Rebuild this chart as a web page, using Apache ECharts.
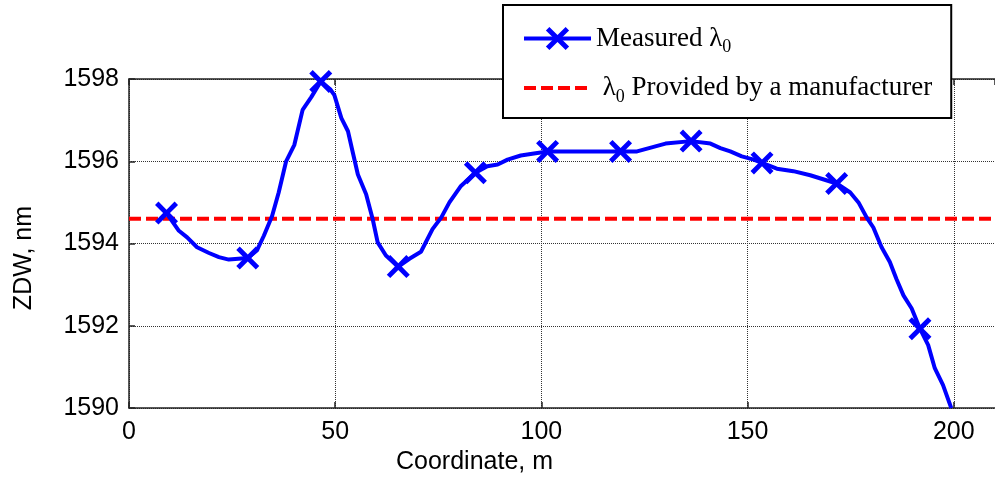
<!DOCTYPE html>
<html><head><meta charset="utf-8">
<script src="https://cdn.jsdelivr.net/npm/echarts@6/dist/echarts.min.js"></script>
<style>html,body{margin:0;padding:0;background:#fff}#c{width:995px;height:480px}</style>
</head><body><div id="c"></div>
<script>
// ---- data ----
const coordinates = [
  9.1, 12.1, 14.1, 16.5, 19.4, 21.8, 24.2, 28.8, 31.0, 32.7,
  34.7, 36.3, 38.1, 40.1, 42.1, 44.2, 46.5, 48.8, 49.8, 51.5,
  53.1, 54.3, 55.5, 57.5, 59.1, 60.3, 62.3, 65.3, 68.0, 70.8,
  73.6, 75.7, 77.7, 80.5, 84.0, 86.9, 89.4, 91.8, 95.0, 98.2,
  101.5, 110.0, 119.2, 123.2, 126.1, 130.1, 136.3, 141.0, 143.4, 145.8,
  148.6, 151.5, 153.5, 157.1, 161.1, 165.2, 171.6, 174.9, 176.9, 178.9,
  180.5, 182.5, 184.5, 186.1, 187.8, 189.8, 191.8, 193.8, 195.4, 197.4, 199.4
];
const measuredZdw = [
  1594.74, 1594.31, 1594.15, 1593.91, 1593.77, 1593.67, 1593.61, 1593.65, 1593.83, 1594.19,
  1594.67, 1595.24, 1596.00, 1596.40, 1597.25, 1597.56, 1597.94, 1597.75, 1597.61, 1597.05,
  1596.73, 1596.20, 1595.68, 1595.20, 1594.59, 1594.03, 1593.71, 1593.44, 1593.63, 1593.80,
  1594.35, 1594.63, 1595.00, 1595.40, 1595.72, 1595.88, 1595.92, 1596.04, 1596.14, 1596.19,
  1596.24, 1596.24, 1596.24, 1596.24, 1596.32, 1596.43, 1596.49, 1596.43, 1596.32, 1596.24,
  1596.12, 1596.04, 1595.96, 1595.82, 1595.76, 1595.66, 1595.46, 1595.24, 1595.00, 1594.63,
  1594.39, 1593.91, 1593.55, 1593.14, 1592.74, 1592.42, 1591.93, 1591.53, 1590.97, 1590.56, 1590.00
];
const markerCoordinates = [9.1, 28.8, 46.5, 65.3, 84.0, 101.5, 119.2, 136.3, 153.5, 171.6, 191.8];
const manufacturerX = [0, 210];
const manufacturerZdw = [1594.6, 1594.6];
const xTicks = [0, 50, 100, 150, 200];
const yTicks = [1590, 1592, 1594, 1596, 1598];
const seriesNames = ['Measured λ0', 'λ0 Provided by a manufacturer'];

// ---- chart ----
const X_MARK = 'path://M0,3L3,0L10,7L17,0L20,3L13,10L20,17L17,20L10,13L3,20L0,17L7,10Z';
const FONT = 'Liberation Sans';
const SERIF = 'Liberation Serif';

const measuredData = coordinates.map((x, i) => {
  const item = { value: [x, measuredZdw[i]] };
  if (markerCoordinates.indexOf(x) < 0) item.symbol = 'none';
  return item;
});
const manuData = manufacturerX.map((x, i) => [x, manufacturerZdw[i]]);

const chart = echarts.init(document.getElementById('c'), null, { renderer: 'canvas' });
const axisLineStyle = { color: '#222', width: 1.5 };
const gridLine = { show: true, lineStyle: { color: '#333', type: [1, 1], width: 1 } };

chart.setOption({
  animation: false,
  backgroundColor: '#fff',
  grid: { left: 129, top: 79, bottom: 70, right: -2, containLabel: false },
  legend: {
    data: seriesNames,
    orient: 'vertical',
    left: 503, top: 5,
    padding: [20, 19, 12, 19],
    itemGap: 18,
    itemWidth: 67,
    itemHeight: 29,
    backgroundColor: '#fff',
    borderColor: '#000',
    borderWidth: 2,
    borderRadius: 0,
    selectedMode: false,
    lineStyle: { width: 'inherit' },
    formatter: function (name) {
      if (name === seriesNames[0]) return '{t|Measured λ}{s|0}';
      return '{t| λ}{s|0}{t| Provided by a manufacturer}';
    },
    textStyle: {
      color: '#000',
      fontFamily: SERIF,
      fontSize: 27,
      rich: {
        t: { fontFamily: SERIF, fontSize: 27, lineHeight: 36, color: '#000' },
        s: { fontFamily: SERIF, fontSize: 18, lineHeight: 18, verticalAlign: 'bottom', color: '#000' }
      }
    }
  },
  xAxis: [{
    type: 'value', min: 0, max: 210, interval: 50,
    position: 'bottom',
    axisLine: { show: true, onZero: false, lineStyle: axisLineStyle },
    axisTick: { show: true, inside: true, length: 6, lineStyle: axisLineStyle },
    axisLabel: { color: '#000', fontFamily: FONT, fontSize: 25, margin: 12, showMaxLabel: false,
                 formatter: v => String(v) },
    splitLine: gridLine,
    name: 'Coordinate, m',
    nameLocation: 'middle',
    nameGap: 38,
    nameTextStyle: { color: '#000', fontFamily: FONT, fontSize: 25, padding: [0, 175, 0, 0] }
  }, {
    type: 'value', min: 0, max: 210, interval: 50,
    position: 'top',
    axisLine: { show: true, onZero: false, lineStyle: axisLineStyle },
    axisTick: { show: true, inside: true, length: 6, lineStyle: axisLineStyle },
    axisLabel: { show: false },
    splitLine: { show: false }
  }],
  yAxis: {
    type: 'value', min: 1590, max: 1598, interval: 2,
    axisLine: { show: true, onZero: false, lineStyle: axisLineStyle },
    axisTick: { show: true, inside: true, length: 6, lineStyle: axisLineStyle },
    axisLabel: { color: '#000', fontFamily: FONT, fontSize: 25, margin: 10,
                 formatter: v => String(v) },
    splitLine: gridLine,
    name: 'ZDW, nm',
    nameLocation: 'middle',
    nameRotate: 90,
    nameGap: 92,
    nameTextStyle: { color: '#000', fontFamily: FONT, fontSize: 25, padding: [0, 29, 0, 0] }
  },
  series: [{
    name: seriesNames[1],
    type: 'line',
    data: manuData,
    symbol: 'none',
    z: 2,
    lineStyle: { color: '#ff0000', width: 4, type: [12, 5] },
    itemStyle: { color: '#ff0000', opacity: 0 }
  }, {
    name: seriesNames[0],
    type: 'line',
    data: measuredData,
    symbol: X_MARK,
    symbolSize: 23,
    showSymbol: true,
    showAllSymbol: true,
    z: 3,
    lineStyle: { color: '#0000ff', width: 4 },
    itemStyle: { color: '#0000ff' }
  }]
});
</script>
</body></html>
